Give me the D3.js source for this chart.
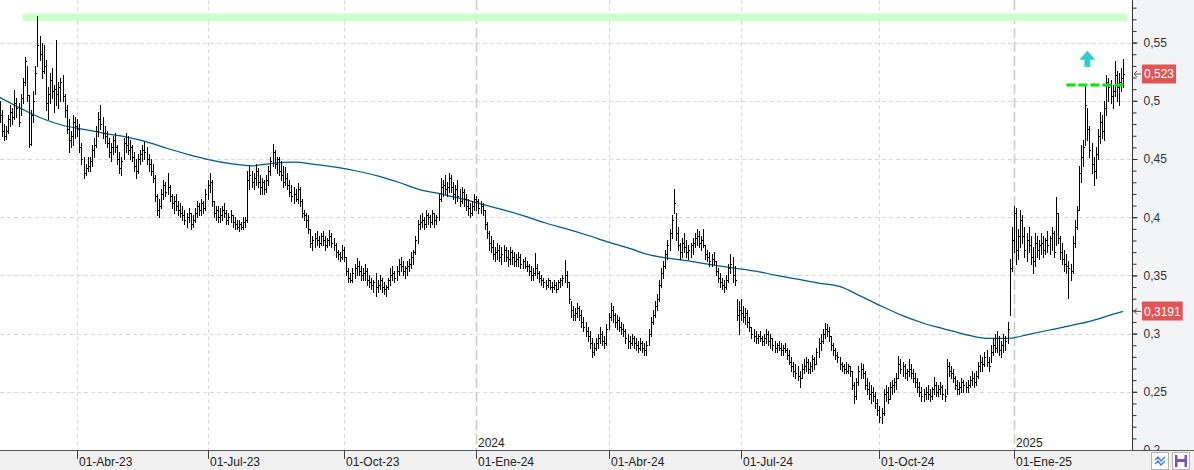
<!DOCTYPE html>
<html><head><meta charset="utf-8">
<script src="https://cdn.jsdelivr.net/npm/d3@7"></script>
<style>
html,body{margin:0;padding:0;background:#fff;}
svg{display:block;font-family:"Segoe UI","Liberation Sans",Arial,sans-serif;}
</style></head><body>
<svg id="chart" width="1194" height="470"></svg>
<script>
// ---------------- DATA ----------------
const startDate = "2023-02-09";
const holidays = ["2023-04-07","2023-04-10","2023-05-01","2023-12-25","2023-12-26","2024-01-01",
  "2024-03-29","2024-04-01","2024-05-01","2024-12-25","2024-12-26","2025-01-01"];

const highs = [
.500,.492,.480,.478,.488,.496,.494,.509,.502,.498,
.506,.520,.538,.530,.505,.492,.508,.530,.573,.556,
.550,.548,.535,.512,.524,.528,.514,.552,.516,.520,
.522,.506,.496,.484,.474,.488,.486,.484,.480,.464,
.452,.446,.452,.452,.462,.468,.478,.490,.496,.486,
.478,.474,.468,.464,.470,.472,.462,.456,.452,.468,
.472,.470,.466,.462,.456,.450,.454,.458,.462,.465,
.460,.454,.450,.446,.436,.420,.416,.424,.432,.430,
.438,.428,.420,.418,.420,.414,.412,.410,.406,.404,
.408,.404,.402,.408,.414,.412,.416,.414,.424,.432,
.438,.432,.414,.410,.410,.408,.410,.412,.406,.404,
.406,.402,.400,.398,.398,.396,.400,.400,.440,.444,
.440,.438,.446,.442,.436,.434,.432,.436,.444,.452,
.463,.458,.452,.452,.448,.444,.443,.438,.432,.428,
.426,.424,.429,.426,.416,.406,.404,.402,.390,.384,
.386,.388,.384,.386,.388,.384,.382,.389,.386,.382,
.378,.372,.370,.376,.374,.366,.356,.352,.356,.360,
.365,.362,.358,.356,.360,.356,.350,.348,.346,.352,
.346,.350,.348,.344,.342,.348,.356,.358,.354,.358,
.364,.366,.362,.358,.362,.364,.370,.372,.384,.398,
.402,.404,.400,.406,.404,.402,.406,.404,.402,.420,
.434,.432,.436,.430,.438,.436,.430,.428,.432,.424,
.426,.424,.420,.416,.412,.414,.420,.418,.416,.414,
.412,.406,.396,.388,.384,.380,.374,.378,.376,.374,
.376,.374,.372,.374,.372,.370,.368,.370,.368,.364,
.366,.362,.360,.358,.356,.369,.360,.354,.350,.348,
.346,.348,.346,.344,.346,.344,.346,.348,.350,.363,
.354,.344,.328,.324,.322,.326,.324,.320,.314,.310,
.306,.302,.296,.292,.296,.300,.306,.302,.298,.308,
.318,.326,.324,.318,.316,.314,.310,.308,.304,.300,
.298,.300,.298,.296,.294,.296,.294,.292,.294,.304,
.314,.320,.328,.334,.346,.356,.362,.372,.380,.390,
.402,.424,.404,.392,.378,.382,.386,.380,.376,.378,
.382,.386,.390,.388,.384,.390,.376,.372,.370,.368,
.370,.362,.356,.352,.348,.346,.350,.360,.368,.366,
.358,.330,.328,.330,.324,.322,.320,.314,.306,.304,
.302,.300,.302,.298,.300,.304,.302,.300,.296,.294,
.292,.294,.292,.290,.292,.288,.286,.280,.276,.274,
.272,.268,.274,.278,.280,.278,.276,.282,.280,.288,
.296,.300,.304,.309,.308,.306,.298,.292,.288,.284,
.280,.276,.274,.276,.274,.272,.268,.258,.262,.272,
.275,.274,.268,.262,.258,.256,.254,.250,.244,.238,
.236,.252,.256,.254,.258,.260,.262,.266,.281,.278,
.276,.274,.270,.278,.274,.270,.266,.262,.258,.254,
.252,.254,.256,.252,.254,.263,.258,.256,.258,.256,
.252,.278,.276,.272,.270,.264,.260,.258,.262,.260,
.258,.260,.264,.268,.266,.268,.276,.282,.280,.284,
.286,.280,.290,.296,.300,.302,.298,.294,.300,.298,
.310,.364,.392,.410,.408,.390,.406,.402,.392,.386,
.392,.384,.374,.386,.384,.380,.386,.384,.382,.388,
.384,.392,.388,.417,.404,.384,.378,.372,.368,.362,
.360,.384,.398,.410,.444,.462,.466,.513,.494,.478,
.464,.452,.460,.476,.490,.488,.500,.522,.520,.518,
.514,.534,.526,.524,.528,.536];

const lows = [
.482,.470,.466,.467,.472,.478,.480,.484,.486,.478,
.488,.498,.514,.500,.460,.462,.482,.506,.530,.535,
.520,.524,.492,.484,.498,.502,.490,.496,.494,.500,
.500,.486,.472,.456,.460,.462,.468,.470,.456,.446,
.434,.436,.440,.440,.444,.452,.460,.470,.476,.468,
.464,.460,.452,.448,.454,.456,.446,.438,.436,.450,
.456,.454,.450,.448,.440,.434,.438,.446,.448,.450,
.446,.440,.436,.430,.414,.402,.400,.408,.416,.418,
.420,.414,.408,.404,.406,.402,.400,.398,.394,.392,
.396,.390,.392,.396,.400,.402,.402,.404,.406,.416,
.422,.410,.400,.398,.396,.396,.398,.400,.394,.394,
.396,.392,.390,.390,.388,.390,.390,.392,.396,.424,
.426,.424,.428,.426,.420,.420,.420,.422,.428,.436,
.444,.442,.438,.436,.432,.426,.428,.424,.418,.414,
.412,.414,.412,.410,.400,.398,.392,.386,.374,.372,
.374,.376,.374,.376,.376,.372,.374,.376,.374,.372,
.366,.364,.362,.364,.362,.350,.344,.344,.344,.348,
.350,.350,.346,.346,.346,.342,.340,.338,.336,.332,
.336,.338,.336,.334,.332,.338,.342,.346,.344,.346,
.350,.354,.350,.348,.350,.354,.356,.360,.368,.378,
.390,.392,.390,.392,.394,.392,.394,.392,.394,.398,
.414,.418,.420,.418,.422,.422,.416,.412,.414,.410,
.412,.410,.406,.402,.400,.402,.406,.406,.404,.404,
.402,.390,.382,.372,.370,.364,.362,.364,.362,.360,
.362,.362,.358,.360,.360,.358,.358,.358,.356,.356,
.356,.354,.350,.346,.346,.350,.348,.344,.342,.340,
.338,.340,.338,.336,.338,.336,.338,.340,.342,.344,
.340,.326,.314,.312,.312,.314,.312,.306,.302,.298,
.294,.288,.280,.282,.286,.288,.292,.290,.288,.290,
.304,.312,.310,.306,.304,.302,.300,.298,.292,.288,
.288,.290,.288,.286,.284,.286,.284,.282,.282,.290,
.298,.308,.314,.320,.328,.340,.348,.356,.364,.372,
.382,.404,.380,.372,.364,.366,.370,.366,.364,.366,
.368,.374,.376,.374,.372,.374,.364,.362,.358,.358,
.360,.350,.344,.340,.338,.336,.338,.344,.352,.344,
.342,.312,.300,.312,.310,.308,.306,.302,.296,.294,
.292,.292,.294,.290,.290,.292,.290,.288,.286,.284,
.284,.286,.282,.282,.284,.278,.274,.268,.264,.262,
.260,.254,.262,.266,.268,.266,.266,.268,.270,.274,
.280,.286,.292,.296,.298,.294,.286,.282,.278,.276,
.270,.268,.266,.266,.266,.264,.252,.240,.244,.256,
.262,.262,.252,.248,.244,.240,.242,.236,.230,.224,
.223,.230,.242,.240,.244,.248,.250,.252,.262,.266,
.264,.262,.260,.264,.262,.258,.254,.250,.246,.242,
.242,.244,.244,.242,.244,.248,.246,.246,.248,.244,
.242,.248,.264,.262,.258,.252,.248,.248,.250,.250,
.250,.250,.254,.256,.254,.256,.262,.268,.268,.272,
.272,.268,.276,.282,.284,.284,.282,.280,.284,.286,
.292,.316,.354,.370,.360,.364,.374,.378,.366,.362,
.370,.360,.352,.358,.366,.364,.368,.366,.368,.370,
.368,.372,.366,.376,.378,.364,.360,.354,.352,.331,
.346,.352,.374,.390,.406,.430,.444,.462,.466,.452,
.438,.428,.434,.450,.464,.468,.466,.488,.500,.498,
.494,.504,.500,.496,.508,.512];

const closes = [
.488,.474,.470,.474,.484,.490,.486,.498,.494,.482,
.502,.516,.534,.505,.463,.488,.500,.524,.548,.540,
.526,.530,.498,.506,.518,.508,.510,.506,.512,.516,
.504,.492,.476,.466,.470,.482,.478,.476,.460,.450,
.438,.442,.444,.448,.458,.462,.474,.484,.480,.472,
.470,.464,.456,.460,.466,.460,.450,.442,.448,.464,
.462,.458,.460,.452,.444,.440,.450,.454,.458,.456,
.450,.446,.440,.434,.418,.406,.410,.420,.428,.422,
.426,.418,.412,.414,.410,.406,.404,.402,.398,.400,
.404,.394,.398,.404,.410,.406,.412,.408,.420,.428,
.430,.414,.404,.406,.400,.402,.406,.404,.398,.400,
.402,.396,.394,.392,.394,.392,.396,.398,.432,.436,
.430,.434,.440,.430,.426,.430,.424,.432,.440,.448,
.456,.446,.450,.440,.436,.430,.434,.428,.422,.418,
.420,.416,.424,.414,.404,.402,.398,.390,.378,.380,
.382,.380,.378,.384,.380,.376,.380,.384,.378,.376,
.370,.368,.366,.372,.366,.354,.348,.346,.352,.356,
.358,.354,.350,.352,.354,.346,.344,.342,.344,.340,
.342,.346,.340,.338,.340,.346,.350,.352,.348,.354,
.360,.358,.354,.356,.358,.360,.366,.370,.380,.394,
.396,.398,.394,.402,.400,.396,.404,.398,.400,.416,
.426,.428,.424,.426,.434,.426,.420,.424,.418,.414,
.422,.416,.410,.408,.404,.410,.416,.414,.408,.410,
.406,.394,.386,.378,.374,.368,.370,.372,.366,.368,
.372,.366,.364,.370,.366,.362,.364,.366,.360,.362,
.358,.358,.354,.350,.352,.356,.352,.348,.346,.344,
.342,.346,.340,.340,.342,.338,.344,.346,.348,.350,
.344,.330,.320,.316,.318,.322,.316,.310,.306,.302,
.298,.292,.284,.288,.292,.296,.300,.294,.292,.304,
.314,.320,.316,.310,.312,.306,.304,.302,.296,.294,
.292,.296,.292,.290,.288,.292,.288,.286,.290,.300,
.310,.316,.324,.330,.342,.352,.358,.368,.376,.386,
.398,.412,.386,.376,.370,.378,.374,.370,.372,.376,
.378,.382,.384,.378,.380,.376,.368,.366,.362,.364,
.362,.354,.348,.344,.342,.340,.346,.356,.360,.350,
.346,.316,.320,.318,.314,.318,.310,.306,.300,.298,
.296,.298,.296,.294,.296,.300,.294,.296,.290,.288,
.290,.288,.286,.288,.286,.282,.276,.272,.268,.266,
.264,.262,.270,.272,.276,.270,.272,.278,.274,.284,
.292,.294,.300,.304,.302,.298,.290,.286,.282,.280,
.274,.272,.270,.268,.272,.268,.256,.246,.258,.268,
.270,.266,.256,.252,.248,.250,.246,.240,.234,.228,
.232,.248,.250,.244,.254,.256,.258,.262,.274,.270,
.272,.266,.268,.270,.266,.262,.258,.254,.250,.246,
.248,.250,.248,.246,.252,.256,.250,.252,.254,.248,
.246,.272,.268,.266,.262,.256,.252,.254,.258,.256,
.254,.256,.260,.262,.258,.264,.272,.276,.274,.280,
.276,.272,.284,.290,.288,.296,.286,.290,.296,.294,
.304,.356,.380,.404,.372,.384,.398,.384,.372,.380,
.376,.366,.362,.378,.372,.376,.378,.372,.380,.376,
.382,.386,.370,.404,.382,.370,.364,.360,.358,.356,
.354,.378,.392,.406,.438,.452,.460,.496,.476,.458,
.446,.440,.454,.470,.482,.474,.494,.516,.512,.504,
.508,.522,.512,.516,.520,.523];

const maIndex = [0,10,20,30,40,50,60,70,80,90,100,110,120,130,140,150,160,170,180,190,
  200,210,220,230,240,250,260,270,280,290,300,310,320,330,340,350,360,370,380,390,
  400,410,420,430,440,450,460,470,480,490,500,510,520,530,535];
const maValues = [.503,.4935,.485,.479,.4755,.472,.469,.4648,.459,.4538,
  .4493,.446,.4442,.4462,.4473,.4454,.443,.4397,.4355,.430,
  .4237,.420,.416,.411,.4063,.401,.395,.390,.3845,.3786,
  .3732,.3674,.3644,.3618,.3589,.3563,.3537,.350,.3468,.3434,
  .3405,.3322,.3235,.3154,.3089,.3039,.2992,.2959,.2958,.2994,
  .3031,.3069,.311,.3165,.3191];

const yMajorTicks = [0.2,0.25,0.3,0.35,0.4,0.45,0.5,0.55];
const yMajorLabels = ["0,2","0,25","0,3","0,35","0,4","0,45","0,5","0,55"];
const quarterDates = ["2023-04-01","2023-07-01","2023-10-01","2024-01-01","2024-04-01","2024-07-01","2024-10-01","2025-01-01"];
const quarterLabels = ["01-Abr-23","01-Jul-23","01-Oct-23","01-Ene-24","01-Abr-24","01-Jul-24","01-Oct-24","01-Ene-25"];
const yearDates = ["2024-01-01","2025-01-01"];
const yearLabels = ["2024","2025"];

const lastPrice = 0.523, lastPriceLabel = "0,523";
const maLast = 0.3191, maLastLabel = "0,3191";
const zoneRange = [0.5685, 0.575], zoneBars = [11, 537];
const resistanceLevel = 0.5135, resistanceBars = [508, 535];
const arrowBar = 518, arrowRange = [0.529, 0.543];

// ---------------- CHART ----------------
const W = 1194, H = 470, plotR = 1132, plotB = 450;
const svg = d3.select("#chart");
const n = Math.min(highs.length, lows.length, closes.length);

// trading sessions
const hol = new Set(holidays);
const dates = [];
{ const d = new Date(startDate + "T00:00:00Z");
  while (dates.length < n + 5) {
    const dow = d.getUTCDay(), iso = d.toISOString().slice(0, 10);
    if (dow !== 0 && dow !== 6 && !hol.has(iso)) dates.push(iso);
    d.setUTCDate(d.getUTCDate() + 1);
  } }
const idxOf = s => dates.findIndex(t => t >= s);

const x = d3.scaleLinear().domain([0, 535]).range([-0.4, 1123.1]);
const y = d3.scaleLinear().domain([0.2, 0.55]).range([450, 42.6]);

svg.append("rect").attr("width", W).attr("height", H).attr("fill", "#fff");

// horizontal grid
svg.append("g").selectAll("line").data(yMajorTicks.filter(v => v > 0.2)).join("line")
  .attr("x1", 0).attr("x2", plotR).attr("y1", d => Math.round(y(d)) + 0.5).attr("y2", d => Math.round(y(d)) + 0.5)
  .attr("stroke", "#d9d9d9").attr("stroke-dasharray", "4,3");
// vertical grid (quarters)
const qIdx = quarterDates.map(idxOf);
const yearIdx = yearDates.map(idxOf);
svg.append("g").selectAll("line").data(qIdx.filter(i => !yearIdx.includes(i))).join("line")
  .attr("x1", d => Math.round(x(d)) + 0.5).attr("x2", d => Math.round(x(d)) + 0.5)
  .attr("y1", 0).attr("y2", plotB)
  .attr("stroke", "#d9d9d9").attr("stroke-dasharray", "4,3");
svg.append("g").selectAll("line").data(yearIdx).join("line")
  .attr("x1", d => Math.round(x(d)) + 0.5).attr("x2", d => Math.round(x(d)) + 0.5)
  .attr("y1", 0).attr("y2", plotB)
  .attr("stroke", "#cccccc").attr("stroke-width", 1.6).attr("stroke-dasharray", "10,4");

// zone band
svg.append("rect")
  .attr("x", x(zoneBars[0])).attr("width", x(zoneBars[1]) - x(zoneBars[0]))
  .attr("y", y(zoneRange[1])).attr("height", y(zoneRange[0]) - y(zoneRange[1]))
  .attr("fill", "#ccffcc");

// moving average
const maData = maIndex.map((i, k) => [i, maValues[k]]);
svg.append("path").datum(maData)
  .attr("d", d3.line().x(d => x(d[0])).y(d => y(d[1])).curve(d3.curveMonotoneX))
  .attr("fill", "none").attr("stroke", "#005a8a").attr("stroke-width", 1.25);

// HLC bars
const bars = d3.range(n).map(i => ({ i, h: highs[i], l: lows[i], c: closes[i] }));
const gb = svg.append("g").attr("stroke", "#000").attr("shape-rendering", "crispEdges");
gb.selectAll("line.v").data(bars).join("line").attr("class", "v")
  .attr("x1", d => Math.round(x(d.i)) + 0.5).attr("x2", d => Math.round(x(d.i)) + 0.5)
  .attr("y1", d => Math.round(y(d.h))).attr("y2", d => Math.round(y(d.l)) + 1);
gb.selectAll("line.c").data(bars).join("line").attr("class", "c")
  .attr("x1", d => Math.round(x(d.i)) + 1).attr("x2", d => Math.round(x(d.i)) + 2)
  .attr("y1", d => Math.round(y(d.c)) + 0.5).attr("y2", d => Math.round(y(d.c)) + 0.5);

// resistance dashed line
svg.append("line")
  .attr("x1", x(resistanceBars[0])).attr("x2", x(resistanceBars[1]) + 1)
  .attr("y1", y(resistanceLevel)).attr("y2", y(resistanceLevel))
  .attr("stroke", "#00e600").attr("stroke-width", 3).attr("stroke-dasharray", "9,3");

// up arrow
{ const cx = x(arrowBar), top = y(arrowRange[1]), bot = y(arrowRange[0]);
  const hh = 9, hw = 8, sw = 3;
  const p = d3.path();
  p.moveTo(cx, top); p.lineTo(cx + hw, top + hh); p.lineTo(cx + sw, top + hh); p.lineTo(cx + sw, bot);
  p.lineTo(cx - sw, bot); p.lineTo(cx - sw, top + hh); p.lineTo(cx - hw, top + hh); p.closePath();
  svg.append("path").attr("d", p.toString()).attr("fill", "#33cccc"); }

// right axis area
svg.append("rect").attr("x", plotR + 1).attr("y", 0).attr("width", W - plotR - 1).attr("height", plotB).attr("fill", "#f3f4f6");
const minor = d3.range(20, 59).map(v => v / 100);
svg.append("g").attr("transform", `translate(${plotR + 0.5},0)`)
  .call(d3.axisRight(y).tickValues(minor).tickSize(4).tickFormat(""))
  .call(g => g.select(".domain").remove())
  .call(g => g.selectAll("line").attr("stroke", "#333"));
const ya = svg.append("g").attr("transform", `translate(${plotR + 0.5},0)`)
  .call(d3.axisRight(y).tickValues(yMajorTicks).tickSize(5).tickPadding(6)
    .tickFormat((d, k) => yMajorLabels[k]))
  .call(g => g.select(".domain").remove());
ya.selectAll("line").attr("stroke", "#333");
ya.selectAll("text").attr("fill", "#2a3240").attr("font-size", 12).attr("font-family", null);
svg.append("line").attr("x1", plotR + 0.5).attr("x2", plotR + 0.5).attr("y1", 0).attr("y2", plotB)
  .attr("stroke", "#333");

// price tags
function tag(val, label) {
  const cy = y(val);
  const g = svg.append("g");
  const t = g.append("text").attr("x", 1144).attr("y", cy).attr("dy", "0.35em")
    .attr("font-size", 12).attr("fill", "#fff").text(label);
  const w = t.node().getComputedTextLength();
  g.insert("rect", "text").attr("x", 1142).attr("y", Math.round(cy) - 9.5).attr("width", w + 4).attr("height", 19)
    .attr("fill", "#e05656");
  g.append("path").attr("d", `M${plotR + 2},${cy} L${plotR + 9},${cy} M${plotR + 5},${cy - 3} L${plotR + 2},${cy} L${plotR + 5},${cy + 3}`)
    .attr("stroke", "#555").attr("fill", "none");
}
tag(lastPrice, lastPriceLabel);
tag(maLast, maLastLabel);

// year labels
svg.append("g").selectAll("text").data(yearIdx).join("text")
  .attr("x", d => Math.round(x(d)) + 2).attr("y", 447)
  .attr("font-size", 12).attr("fill", "#222").text((d, k) => yearLabels[k]);

// bottom band & x axis
svg.append("rect").attr("x", 0).attr("y", plotB).attr("width", W).attr("height", H - plotB).attr("fill", "#f0f0f0");
svg.append("line").attr("x1", 0).attr("x2", W).attr("y1", plotB + 0.5).attr("y2", plotB + 0.5).attr("stroke", "#555");
const xa = svg.append("g");
xa.selectAll("line").data(qIdx).join("line")
  .attr("x1", d => Math.round(x(d)) + 0.5).attr("x2", d => Math.round(x(d)) + 0.5)
  .attr("y1", plotB).attr("y2", plotB + 9).attr("stroke", "#444");
xa.selectAll("text").data(qIdx).join("text")
  .attr("x", d => Math.round(x(d)) + 2).attr("y", 466)
  .attr("font-size", 12).attr("fill", "#222").text((d, k) => quarterLabels[k]);

// corner icons
const ic1 = svg.append("g").attr("transform", "translate(1151,452)");
ic1.append("rect").attr("x", 0.5).attr("y", 0.5).attr("width", 17).attr("height", 17).attr("fill", "#fafafa").attr("stroke", "#b5b5b5");
ic1.append("path").attr("d", "M4,8 L7,5 L10,9 L14,5 M4,12 L7,9 L10,13 L14,9").attr("fill", "none").attr("stroke", "#3a7fd0").attr("stroke-width", 1.3);
const ic2 = svg.append("g").attr("transform", "translate(1172,452)");
ic2.append("rect").attr("x", 0.5).attr("y", 0.5).attr("width", 17).attr("height", 17).attr("fill", "#fafafa").attr("stroke", "#b5b5b5");
ic2.append("rect").attr("x", 3).attr("y", 3).attr("width", 12).attr("height", 12).attr("fill", "#7a4fc6");
ic2.append("rect").attr("x", 5.5).attr("y", 3).attr("width", 7).attr("height", 4).attr("fill", "#fafafa");
ic2.append("rect").attr("x", 5.5).attr("y", 10).attr("width", 7).attr("height", 5).attr("fill", "#fafafa");
</script>
</body></html>
